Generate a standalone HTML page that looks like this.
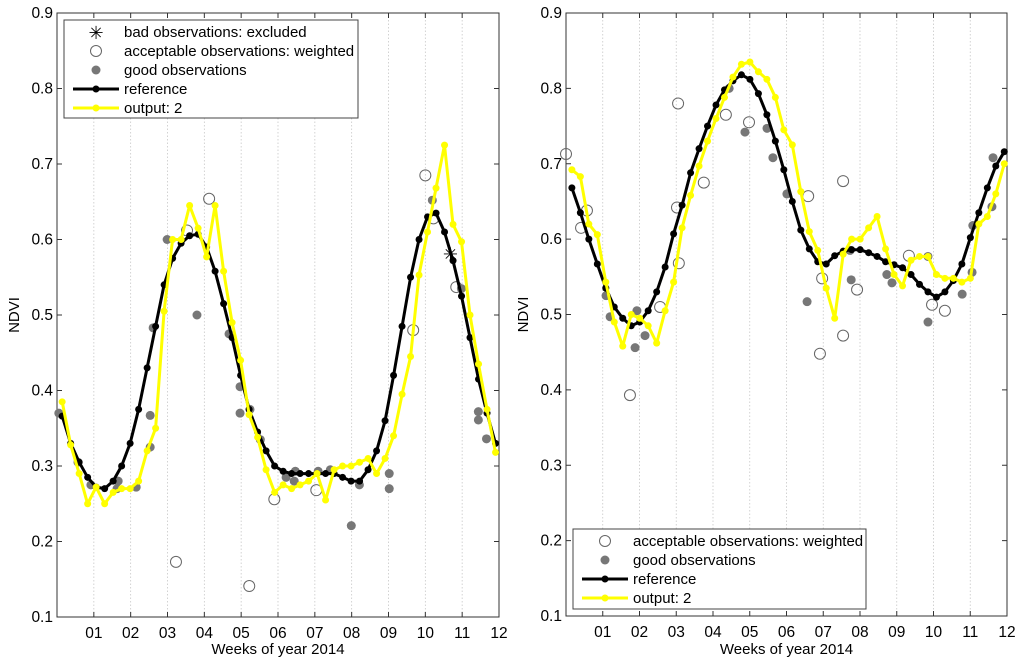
<!DOCTYPE html>
<html><head><meta charset="utf-8"><style>
html,body{margin:0;padding:0;background:#fff;}
svg text{font-family:"Liberation Sans",Arial,sans-serif;fill:#000;}
</style></head><body>
<svg id="fig" width="1024" height="666" viewBox="0 0 1024 666" xmlns="http://www.w3.org/2000/svg"></svg>
<script>
// ---- data (x in months 0..12, y NDVI) ----
const tickLabels = ["01","02","03","04","05","06","07","08","09","10","11","12"];
const yTicks = [0.1,0.2,0.3,0.4,0.5,0.6,0.7,0.8,0.9];
const weekStartL = 0.14, weekStartR = 0.16, weekStep = 0.2307;
const refL = [0.366,0.33,0.305,0.285,0.272,0.27,0.28,0.30,0.33,0.375,0.43,0.485,0.54,0.575,0.595,0.605,0.607,0.59,0.558,0.515,0.47,0.42,0.375,0.345,0.32,0.30,0.293,0.29,0.29,0.29,0.29,0.29,0.29,0.285,0.28,0.28,0.295,0.32,0.36,0.42,0.485,0.55,0.60,0.63,0.635,0.61,0.572,0.525,0.47,0.415,0.37,0.33];
const outL = [0.385,0.328,0.29,0.25,0.272,0.25,0.265,0.27,0.27,0.28,0.32,0.35,0.505,0.60,0.60,0.645,0.615,0.577,0.645,0.558,0.49,0.44,0.368,0.338,0.295,0.265,0.275,0.27,0.275,0.28,0.29,0.255,0.295,0.30,0.30,0.305,0.31,0.29,0.31,0.34,0.395,0.445,0.553,0.61,0.668,0.725,0.62,0.597,0.50,0.435,0.375,0.318];
const goodLx = [0.05,0.57,0.92,1.66,1.63,2.15,2.53,2.53,2.61,2.99,3.80,4.97,4.97,4.67,5.24,5.52,6.22,6.47,6.44,7.09,7.42,7.99,8.21,9.02,9.02,10.19,11.44,11.44,11.66,10.98];
const goodLy = [0.37,0.305,0.275,0.28,0.27,0.272,0.367,0.325,0.483,0.60,0.50,0.405,0.37,0.475,0.375,0.335,0.285,0.293,0.28,0.293,0.295,0.221,0.275,0.29,0.27,0.652,0.372,0.361,0.336,0.535];
const accLx = [3.23,3.53,4.13,5.22,5.90,7.04,9.67,10.0,10.22,10.84];
const accLy = [0.173,0.612,0.654,0.141,0.256,0.268,0.48,0.685,0.628,0.537];
const badLx = [10.68];
const badLy = [0.583];
const refR = [0.668,0.635,0.60,0.567,0.535,0.51,0.495,0.485,0.49,0.505,0.53,0.563,0.607,0.645,0.688,0.72,0.75,0.778,0.798,0.81,0.818,0.812,0.793,0.765,0.73,0.692,0.65,0.612,0.587,0.57,0.567,0.578,0.584,0.586,0.586,0.582,0.577,0.57,0.566,0.562,0.553,0.54,0.53,0.523,0.53,0.545,0.567,0.602,0.635,0.668,0.697,0.716];
const outR = [0.692,0.683,0.62,0.606,0.543,0.49,0.458,0.50,0.495,0.485,0.462,0.505,0.543,0.615,0.658,0.697,0.73,0.76,0.788,0.815,0.832,0.835,0.822,0.812,0.788,0.745,0.725,0.663,0.61,0.585,0.535,0.495,0.58,0.60,0.60,0.615,0.63,0.587,0.553,0.538,0.572,0.577,0.577,0.553,0.548,0.548,0.543,0.548,0.62,0.63,0.66,0.70];
const goodRx = [1.09,1.20,1.93,1.88,2.15,4.44,4.87,5.47,5.63,6.01,6.56,7.76,7.73,8.73,8.87,9.85,9.85,10.78,11.05,11.07,11.59,11.62];
const goodRy = [0.525,0.497,0.505,0.456,0.472,0.80,0.742,0.747,0.708,0.66,0.517,0.546,0.585,0.553,0.542,0.49,0.577,0.527,0.556,0.618,0.643,0.708];
const accRx = [0,0.41,0.57,1.74,2.56,3.05,3.02,3.07,3.75,4.35,4.98,6.59,6.97,6.91,7.54,7.54,7.92,9.33,9.96,10.31];
const accRy = [0.713,0.615,0.638,0.393,0.51,0.78,0.642,0.568,0.675,0.765,0.755,0.657,0.548,0.448,0.677,0.472,0.533,0.578,0.513,0.505];

const NS="http://www.w3.org/2000/svg";
const svg=document.getElementById('fig');
function mk(tag,attrs,parent){const e=document.createElementNS(NS,tag);for(const k in attrs)e.setAttribute(k,attrs[k]);(parent||svg).appendChild(e);return e;}

function panel(p){
  const g=mk('g',{});
  
  
  const X=m=>p.x0+(m/12)*(p.x1-p.x0);
  const Y=v=>p.y1-(v-0.1)/0.8*(p.y1-p.y0);
  tickLabels.forEach((t,i)=>{
    const x=X(i+1);
    if(i<11){const gl=mk('line',{x1:x,x2:x,y1:p.y0,y2:p.y1,stroke:'#c8c8c8','stroke-width':0.8,'stroke-dasharray':'1.5,2'},g);
      }
    mk('line',{x1:x,x2:x,y1:p.y1,y2:p.y1-5,stroke:'#333'},g);
    mk('line',{x1:x,x2:x,y1:p.y0,y2:p.y0+5,stroke:'#333'},g);
    const tl=mk('text',{x:x,y:p.y1+21,'font-size':15.5,'text-anchor':'middle'},g);
    tl.textContent=t;
    
  });
  yTicks.forEach(v=>{
    const y=Y(v);
    mk('line',{x1:p.x0,x2:p.x0+5,y1:y,y2:y,stroke:'#333'},g);
    mk('line',{x1:p.x1,x2:p.x1-5,y1:y,y2:y,stroke:'#333'},g);
    const tl=mk('text',{x:p.x0-4,y:y+5,'font-size':15.5,'text-anchor':'end'},g);
    tl.textContent=v.toFixed(1);
    
  });
  const box=mk('rect',{x:p.x0,y:p.y0,width:p.x1-p.x0,height:p.y1-p.y0,fill:'none',stroke:'#333','stroke-width':1},g);
  
  const xl=mk('text',{x:(p.x0+p.x1)/2,y:654,'font-size':15,'text-anchor':'middle'},g);
  xl.textContent='Weeks of year 2014';
  
  const yl=mk('text',{x:0,y:0,'font-size':15,'text-anchor':'middle',transform:`translate(${p.x0-38},${(p.y0+p.y1)/2}) rotate(-90)`},g);
  yl.textContent='NDVI';
  
  p.accX.forEach((m,i)=>{const c=mk('circle',{cx:X(m),cy:Y(p.accY[i]),r:5.5,fill:'none',stroke:'#666','stroke-width':1},g);
    });
  p.goodX.forEach((m,i)=>{const c=mk('circle',{cx:X(m),cy:Y(p.goodY[i]),r:4.5,fill:'#777'},g);
    });
  (p.badX||[]).forEach((m,i)=>{const s=mk('text',{x:X(m),y:Y(p.badY[i])+8,'font-size':18,'text-anchor':'middle',fill:'#333'},g);
    s.textContent='✳';});
  function series(vals,start,col,nm){
    const pts=vals.map((v,i)=>X(start+i*weekStep).toFixed(1)+','+Y(v).toFixed(1)).join(' ');
    const pl=mk('polyline',{points:pts,fill:'none',stroke:col,'stroke-width':3,'stroke-linejoin':'round'},g);
    
    vals.forEach((v,i)=>{const c=mk('circle',{cx:X(start+i*weekStep),cy:Y(v),r:3.5,fill:col},g);
      });
  }
  series(p.ref,p.start,'#000','reference');
  series(p.out,p.start,'#ffff00','output');
  const L=p.leg;
  const lg=mk('g',{},g);
  
  mk('rect',{x:L.x,y:L.y,width:L.w,height:L.h,fill:'#fff',stroke:'#444','stroke-width':1},lg);
  let ly=L.y+12;
  L.items.forEach(it=>{
    const cx=L.x+32;
    if(it==='bad'){const s=mk('text',{x:cx,y:ly+7,'font-size':18,'text-anchor':'middle',fill:'#333'},lg);s.textContent='✳';}
    if(it==='acc')mk('circle',{cx:cx,cy:ly,r:5.5,fill:'none',stroke:'#666'},lg);
    if(it==='good')mk('circle',{cx:cx,cy:ly,r:4.5,fill:'#777'},lg);
    if(it==='ref'||it==='out'){const col=it==='ref'?'#000':'#ffff00';
      mk('line',{x1:L.x+9,x2:L.x+55,y1:ly,y2:ly,stroke:col,'stroke-width':3},lg);mk('circle',{cx:cx,cy:ly,r:3.5,fill:col},lg);}
    const labels={bad:'bad observations: excluded',acc:'acceptable observations: weighted',good:'good observations',ref:'reference',out:'output: 2'};
    const t=mk('text',{x:L.x+60,y:ly+5,'font-size':15},lg);t.textContent=labels[it];
    
    ly+=19;
  });
}
panel({name:'left-chart',x0:57,x1:499,y0:13,y1:617,start:weekStartL,ref:refL,out:outL,goodX:goodLx,goodY:goodLy,accX:accLx,accY:accLy,badX:badLx,badY:badLy,
  leg:{x:64,y:20,w:294,h:98,items:['bad','acc','good','ref','out']}});
panel({name:'right-chart',x0:566,x1:1007,y0:13,y1:616,start:weekStartR,ref:refR,out:outR,goodX:goodRx,goodY:goodRy,accX:accRx,accY:accRy,
  leg:{x:573,y:529,w:293,h:80,items:['acc','good','ref','out']}});
</script>
</body></html>
